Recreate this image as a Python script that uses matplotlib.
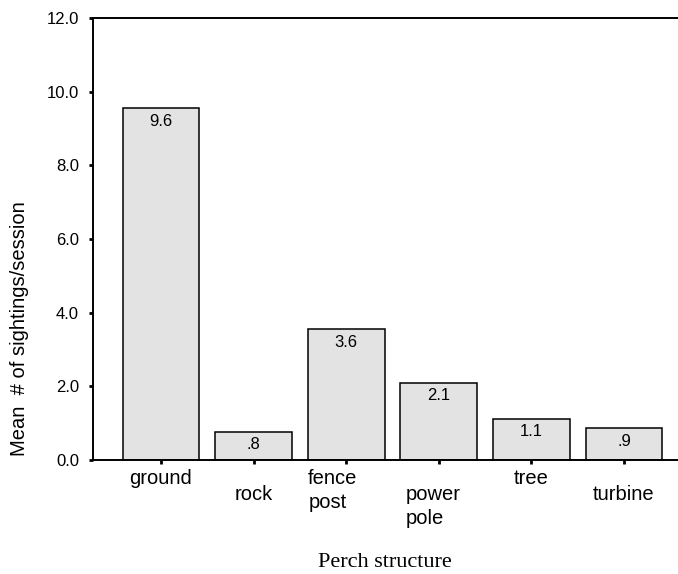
import matplotlib
matplotlib.use("Agg")
import matplotlib.pyplot as plt

categories = ["ground", "rock", "fence\npost", "power\npole", "tree", "turbine"]
means = [9.55, 0.77, 3.55, 2.1, 1.12, 0.86]
value_labels = ["9.6", ".8", "3.6", "2.1", "1.1", ".9"]
yticks = [0.0, 2.0, 4.0, 6.0, 8.0, 10.0, 12.0]

W, H = 678, 574
fig = plt.figure(figsize=(W / 100, H / 100), dpi=100)
plt.rcParams['font.family'] = ['Liberation Sans', 'DejaVu Sans']

left_px, right_px, top_px, bot_px = 93, 700, 18, 460
ax = fig.add_axes([left_px / W, 1 - bot_px / H, (right_px - left_px) / W, (bot_px - top_px) / H])

x = list(range(len(categories)))
ax.bar(x, means, width=0.83, color="#e3e3e3", edgecolor="black", linewidth=1.1, zorder=2)

ax.set_xlim(-0.734, 5.82)
ax.set_ylim(0, 12)
ax.set_yticks(yticks)
ax.set_yticklabels([f"{v:.1f}" for v in yticks], fontsize=12)
ax.tick_params(axis='y', direction='out', length=3, width=2, pad=7)
ax.set_xticks(x)
ax.set_xticklabels([""] * len(x))
ax.tick_params(axis='x', direction='out', length=3, width=2)

for s in ["left", "top", "bottom"]:
    ax.spines[s].set_linewidth(1.4)
ax.spines["right"].set_visible(False)

for i, (m, lab) in enumerate(zip(means, value_labels)):
    ax.annotate(lab, xy=(i, m), xytext=(0, -13), textcoords='offset pixels',
                ha='center', va='center', fontsize=12)

# horizontal shift (pixels) of the left-aligned multi-line labels
multi_dx = {2: -38, 3: -33}
for i, cat in enumerate(categories):
    off = -24 if i % 2 == 0 else -40
    lines = cat.split("\n")
    if len(lines) == 1:
        ax.annotate(cat, xy=(i, 0), xycoords=('data', 'axes fraction'),
                    xytext=(0, off), textcoords='offset pixels',
                    ha='center', va='baseline', fontsize=14.5)
    else:
        for k, ln in enumerate(lines):
            ax.annotate(ln, xy=(i, 0), xycoords=('data', 'axes fraction'),
                        xytext=(multi_dx.get(i, 0), off - 24 * k), textcoords='offset pixels',
                        ha='left', va='baseline', fontsize=14.5)

fig.text(20 / W, 1 - 329 / H, "Mean  # of sightings/session", rotation=90,
         ha='center', va='center', fontsize=14.5)
fig.text(385 / W, 1 - 567 / H, "Perch structure", ha='center', va='baseline',
         fontsize=16, family=['Liberation Serif', 'DejaVu Serif'])

fig.savefig("out.png", dpi=100)
